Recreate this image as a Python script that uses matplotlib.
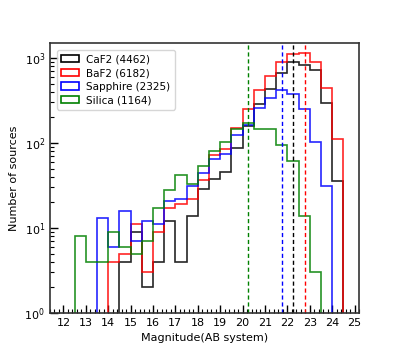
import numpy as np
import matplotlib
matplotlib.use('Agg')
import matplotlib.pyplot as plt
from matplotlib.ticker import MultipleLocator

BIN_WIDTH = 0.5

# counts per 0.5 mag bin
caf2_start = 14.5
caf2_counts = [4, 9, 2, 4, 12, 4, 14, 29, 38, 46, 88, 160, 288, 429, 662,
               902, 824, 726, 299, 36]
baf2_start = 14.0
baf2_counts = [4, 5, 11, 3, 9, 17, 19, 22, 37, 73, 85, 150, 249, 421, 617,
               902, 1110, 1140, 890, 449, 110]
sapphire_start = 13.5
sapphire_counts = [13, 6, 16, 7, 12, 11, 21, 22, 31, 44, 64, 74, 125, 162,
                   255, 335, 417, 374, 249, 103, 31]
silica_start = 12.5
silica_counts = [8, 4, 4, 9, 6, 5, 7, 17, 28, 42, 33, 53, 80, 102, 146, 170,
                 147, 147, 95, 62, 14, 3]

labels = ['CaF2 (4462)', 'BaF2 (6182)', 'Sapphire (2325)', 'Silica (1164)']
colors = ['k', 'r', 'b', 'g']
medians = [22.26, 22.77, 21.75, 20.25]

series = [(caf2_start, caf2_counts), (baf2_start, baf2_counts),
          (sapphire_start, sapphire_counts), (silica_start, silica_counts)]

fig = plt.figure(figsize=(3.99, 3.59), dpi=100)
ax = fig.add_axes([0.1253, 0.1281, 0.7744, 0.7521])
ax.set_yscale('log')

for (start, counts), lab, col in zip(series, labels, colors):
    edges = start + BIN_WIDTH * np.arange(len(counts) + 1)
    centers = edges[:-1] + BIN_WIDTH / 2
    ax.hist(centers, bins=edges, weights=counts, histtype='step',
            color=col, linewidth=1.2, alpha=0.85, label=lab)

for m, col in zip(medians, colors):
    ax.axvline(m, color=col, linestyle='--', linewidth=1.0, dashes=(3, 2))

ax.set_xlim(11.4, 25.2)
ax.set_ylim(1, 1500)
ax.xaxis.set_major_locator(MultipleLocator(1))
ax.xaxis.set_minor_locator(MultipleLocator(0.2))
ax.tick_params(which='both', direction='in', labelsize=8)
ax.tick_params(which='major', length=6, width=1.0)
ax.tick_params(which='minor', length=3, width=0.8)
for sp in ax.spines.values():
    sp.set_linewidth(1.2)
    sp.set_color('#333333')

ax.set_xlabel('Magnitude(AB system)', fontsize=8)
ax.set_ylabel('Number of sources', fontsize=8)
leg = ax.legend(loc='upper left', fontsize=7.5, handlelength=1.7,
                borderaxespad=0.7, labelspacing=0.35, handletextpad=0.7)
for h in leg.legend_handles:
    h.set_alpha(1.0)

fig.savefig('out.png', dpi=100)
